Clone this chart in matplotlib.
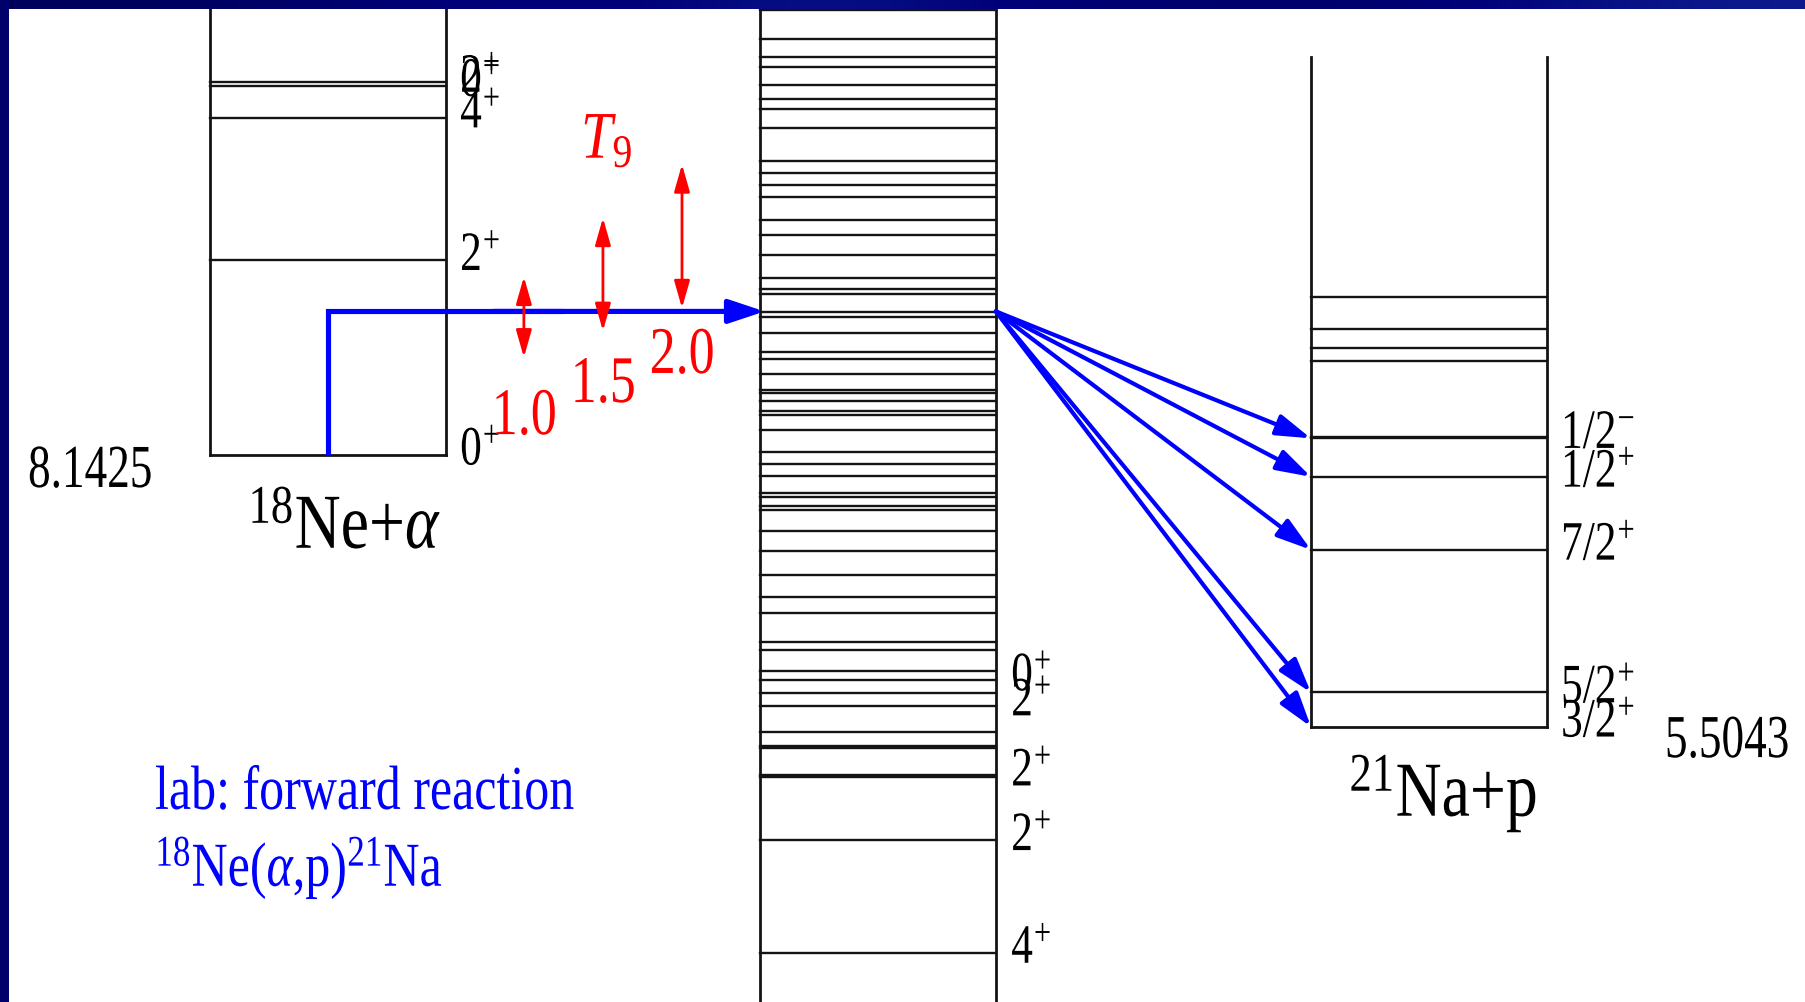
import numpy as np
import matplotlib
matplotlib.use("Agg")
import matplotlib.pyplot as plt
from matplotlib.patheffects import AbstractPathEffect
from matplotlib.transforms import Affine2D
from matplotlib.path import Path

plt.rcParams["font.family"] = ["Liberation Serif", "DejaVu Serif"]
plt.rcParams["mathtext.fontset"] = "custom"
plt.rcParams["mathtext.rm"] = "Liberation Serif"
plt.rcParams["mathtext.it"] = "Liberation Serif:italic"
plt.rcParams["mathtext.bf"] = "Liberation Serif:bold"

# ---------------------------------------------------------------- data (MeV)
# particle thresholds, as excitation energies in 22Mg
alpha_threshold = 8.1425
proton_threshold = 5.5043

# 18Ne levels, relative to the 18Ne+alpha threshold
ne18_levels = [0.0, 1.887, 3.27, 3.576, 3.616]
ne18_labels = [r"$0^{\!+}$", r"$2^{\!+}$", r"$4^{\!+}$", r"$0^{\!+}$", r"$2^{\!+}$"]

# 22Mg levels (excitation energy)
mg22_levels = [3.31, 4.403, 5.012, 5.040, 5.294, 5.318, 5.450, 5.710, 5.831,
               5.953, 6.040, 6.248, 6.326, 6.607, 6.767, 6.976, 7.209, 7.400,
               7.606, 7.645, 7.737, 7.776, 7.936, 8.053, 8.164, 8.382, 8.528,
               8.567, 8.664, 8.741, 8.770, 8.925, 9.071, 9.134, 9.320, 9.475,
               9.524, 9.706, 9.745, 9.854, 10.080, 10.271, 10.422, 10.645,
               10.758, 10.875, 10.988, 11.311, 11.496, 11.593, 11.731, 11.906,
               11.997, 12.175, 12.459]
mg22_labeled = [3.31, 4.403, 5.03, 5.710, 5.953]
mg22_labels = [r"$4^{\!+}$", r"$2^{\!+}$", r"$2^{\!+}$", r"$2^{\!+}$", r"$0^{\!+}$"]

# 21Na levels, relative to the 21Na+p threshold
na21_levels = [0.0, 0.332, 1.716, 2.424, 2.797, 2.812, 3.544, 3.678, 3.862, 4.170]
na21_labeled = [0.0, 0.332, 1.716, 2.424, 2.797]
na21_labels = [r"$3/2^{\!+}$", r"$5/2^{\!+}$", r"$7/2^{\!+}$", r"$1/2^{\!+}$",
               r"$1/2^{\!-}$"]
na21_top = 6.496

# resonance populated in 18Ne(a,p)21Na, relative to the alpha threshold
resonance = 1.39
# proton decay branches: final 21Na states
decay_targets = [2.797, 2.424, 1.716, 0.332, 0.0]

# Gamow windows (relative to the alpha threshold)
t9_values = ["1.0", "1.5", "2.0"]
gamow_peak = [1.335, 1.749, 2.119]
gamow_width = [0.783, 1.098, 1.395]

# ---------------------------------------------------------------- layout
W, H, DPI = 1805, 1003, 100
PX_PER_MEV = 103.1
BOX_W = 236.0
X_LEFT, X_MID, X_RIGHT = 0.0, 2.33, 4.665     # box left edges, in box widths
E_BOTTOM = 2.8342
E_TOP = E_BOTTOM + H / PX_PER_MEV
X_MIN = -210.0 / BOX_W
X_MAX = X_MIN + W / BOX_W

LINE = "#141414"
BLUE = "#0000ff"
RED = "#ff0000"
NAVY = "#00006a"
SQUEEZE = 0.78
LAB_DROP = 0.097      # label baseline below its level


class Condensed(AbstractPathEffect):
    """Draw text narrowed horizontally, keeping the given anchor fixed."""

    def __init__(self, factor, anchor="left"):
        super().__init__()
        self._factor = factor
        self._anchor = anchor

    def draw_path(self, renderer, gc, tpath, affine, rgbFace=None):
        verts = tpath.vertices
        if tpath.codes is not None:
            xs = verts[tpath.codes != Path.CLOSEPOLY, 0]
        else:
            xs = verts[:, 0]
        cx = 0.0
        if len(xs):
            if self._anchor == "center":
                cx = 0.5 * (xs.min() + xs.max())
            elif self._anchor == "right":
                cx = xs.max()
        narrow = Affine2D().translate(-cx, 0).scale(self._factor, 1.0).translate(cx, 0)
        renderer.draw_path(gc, tpath, narrow + affine, rgbFace)


def label(ax, x, y, s, size, color="black", ha="left", squeeze=SQUEEZE):
    ax.text(x, y, s, fontsize=size, color=color, ha=ha, va="baseline",
            path_effects=[Condensed(squeeze, ha)], zorder=6)


fig = plt.figure(figsize=(W / DPI, H / DPI), dpi=DPI)
fig.patch.set_facecolor("white")
ax = fig.add_axes([0, 0, 1, 1])
ax.set_xlim(X_MIN, X_MAX)
ax.set_ylim(E_BOTTOM, E_TOP)
ax.axis("off")

lw_box, lw_lev = 2.0, 1.7

# 18Ne + alpha column
e0 = alpha_threshold
ax.plot([X_LEFT, X_LEFT], [e0, E_TOP + 1], color=LINE, lw=lw_box)
ax.plot([X_LEFT + 1, X_LEFT + 1], [e0, E_TOP + 1], color=LINE, lw=lw_box)
for e in ne18_levels:
    ax.plot([X_LEFT, X_LEFT + 1], [e0 + e, e0 + e], color=LINE,
            lw=lw_box if e == 0 else lw_lev, solid_capstyle="projecting")
for e, s in zip(ne18_levels, ne18_labels):
    label(ax, X_LEFT + 1.06, e0 + e - LAB_DROP, s, 40)

# 22Mg column
ax.plot([X_MID, X_MID], [E_BOTTOM - 1, E_TOP + 1], color=LINE, lw=lw_box)
ax.plot([X_MID + 1, X_MID + 1], [E_BOTTOM - 1, E_TOP + 1], color=LINE, lw=lw_box)
for e in mg22_levels:
    ax.plot([X_MID, X_MID + 1], [e, e], color=LINE, lw=lw_lev)
for e, s in zip(mg22_labeled, mg22_labels):
    label(ax, X_MID + 1.065, e - LAB_DROP, s, 40)

# 21Na + p column
p0 = proton_threshold
ax.plot([X_RIGHT, X_RIGHT], [p0, p0 + na21_top], color=LINE, lw=lw_box)
ax.plot([X_RIGHT + 1, X_RIGHT + 1], [p0, p0 + na21_top], color=LINE, lw=lw_box)
for e in na21_levels:
    ax.plot([X_RIGHT, X_RIGHT + 1], [p0 + e, p0 + e], color=LINE,
            lw=lw_box if e == 0 else lw_lev, solid_capstyle="projecting")
for e, s in zip(na21_labeled, na21_labels):
    label(ax, X_RIGHT + 1.06, p0 + e - LAB_DROP, s, 40)

# thresholds and channel names
label(ax, -0.771, alpha_threshold - 0.313, "8.1425", 44, squeeze=0.74)
label(ax, 6.695, proton_threshold - 0.295, "5.5043", 44, ha="right", squeeze=0.74)
label(ax, 0.161, alpha_threshold - 0.905, r"$^{18}$Ne+$\alpha$", 56, squeeze=0.82)
label(ax, 4.826, proton_threshold - 0.867, r"$^{21}$Na+p", 56, squeeze=0.82)

# entrance channel: 18Ne + alpha feeding the resonance
e_res = alpha_threshold + resonance
ax.plot([0.5, 0.5, 1.5], [alpha_threshold, e_res, e_res], color=BLUE, lw=3.7,
        solid_joinstyle="miter", solid_capstyle="butt", zorder=4)
ax.annotate("", xy=(X_MID + 0.02, e_res), xytext=(1.2, e_res),
            arrowprops=dict(arrowstyle="-|>,head_length=21.6,head_width=7.2",
                            mutation_scale=1, color=BLUE, lw=3.7,
                            shrinkA=0, shrinkB=0), zorder=4)

# exit channel: proton decays to 21Na states
for e in decay_targets:
    ax.annotate("", xy=(X_RIGHT, p0 + e), xytext=(X_MID + 1, e_res),
                arrowprops=dict(arrowstyle="-|>,head_length=21,head_width=6.5",
                                mutation_scale=1, color=BLUE, lw=3.0,
                                shrinkA=0, shrinkB=0), zorder=4)

# Gamow windows
t9_x = [1.33, 1.665, 2.0]
t9_label_drop = [1.135, 1.238, 1.326]
for x, s, c, w, d in zip(t9_x, t9_values, gamow_peak, gamow_width, t9_label_drop):
    lo = alpha_threshold + c - w / 2
    hi = alpha_threshold + c + w / 2
    ax.annotate("", xy=(x, hi), xytext=(x, lo),
                arrowprops=dict(arrowstyle="<|-|>,head_length=16.5,head_width=4.7",
                                mutation_scale=1, color=RED, lw=2.0,
                                shrinkA=0, shrinkB=0), zorder=5)
    label(ax, x, alpha_threshold + c - d, s, 48, color=RED, ha="center", squeeze=0.78)
label(ax, 1.572, 11.02, r"$T_9$", 48, color=RED, squeeze=0.85)

# reaction annotation
label(ax, -0.233, 4.707, "lab: forward reaction", 45, color=BLUE, squeeze=0.8)
label(ax, -0.233, 3.960, r"$^{18}$Ne($\alpha$,p)$^{21}$Na", 45, color=BLUE, squeeze=0.8)

# slide frame: top and left bands
band_h = 10 / H
band_w = 9 / W
grad = np.array([[0.0, 0.1, 0.35, 0.25, 0.55, 0.3, 0.2, 0.15, 0.4, 0.6]])
top = fig.add_axes([0, 1 - band_h, 1, band_h])
top.imshow(grad, aspect="auto", interpolation="bicubic",
           cmap=matplotlib.colors.LinearSegmentedColormap.from_list(
               "frame", ["#00005c", "#000078", "#0c1a8c"]))
top.axis("off")
fig.patches.append(plt.Rectangle((0, 0), band_w, 1, transform=fig.transFigure,
                                 facecolor=NAVY, edgecolor="none", zorder=10))

fig.savefig("out.png", dpi=DPI, facecolor="white")
